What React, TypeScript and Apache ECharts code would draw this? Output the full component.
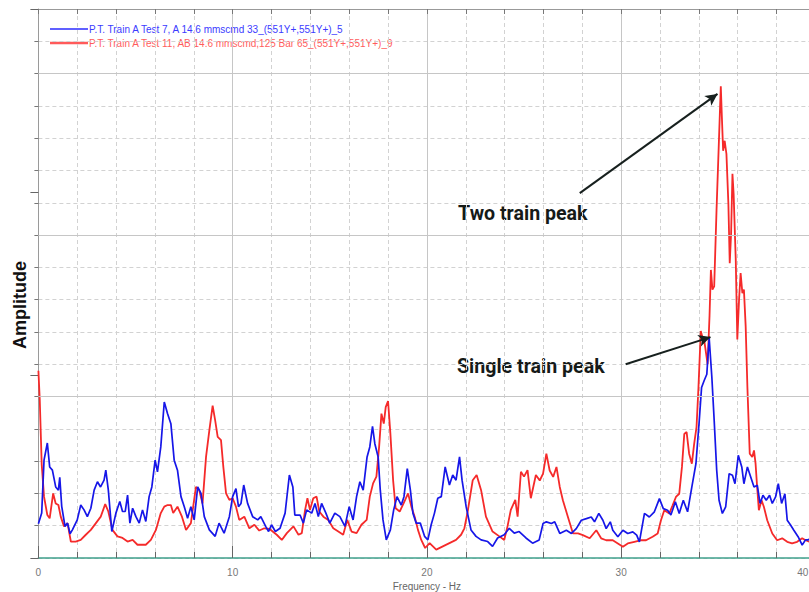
import React, { useEffect, useRef } from "react";
import * as echarts from "echarts";

// Frequency (Hz) and amplitude (in minor grid units)
const blueFreq = [
  0, 0.17, 0.29, 0.46, 0.58, 0.72, 0.89, 1.03, 1.1, 1.2, 1.37, 1.5, 1.63, 1.75, 2.0, 2.18, 2.35, 2.52, 2.7, 2.87,
  3.04, 3.2, 3.38, 3.47, 3.6, 3.78, 3.99, 4.19, 4.33, 4.47, 4.59, 4.71, 4.85, 5.02, 5.19, 5.36, 5.53, 5.7, 5.84, 6.01,
  6.13, 6.3, 6.48, 6.65, 6.82, 6.99, 7.16, 7.34, 7.51, 7.68, 7.85, 8.02, 8.2, 8.37, 8.54, 8.8, 9.1, 9.3, 9.56, 9.83,
  10.0, 10.17, 10.3, 10.43, 10.57, 10.77, 11.03, 11.29, 11.45, 11.7, 11.85, 12.0, 12.2, 12.44, 12.7, 12.92, 13.1, 13.2, 13.47, 13.64,
  13.81, 14.07, 14.24, 14.41, 14.58, 14.8, 15.0, 15.26, 15.52, 15.78, 16.0, 16.2, 16.38, 16.55, 16.72, 16.92, 17.06, 17.2, 17.32, 17.49,
  17.6, 17.74, 17.91, 18.12, 18.29, 18.46, 18.68, 18.82, 18.99, 19.15, 19.28, 19.45, 19.66, 19.88, 20.05, 20.22, 20.39, 20.56, 20.74, 20.94,
  21.16, 21.33, 21.5, 21.68, 21.81, 22.02, 22.27, 22.53, 22.79, 23.13, 23.38, 23.64, 23.98, 24.24, 24.5, 24.75, 25.1, 25.44, 25.78, 25.98,
  26.15, 26.41, 26.58, 26.84, 27.18, 27.44, 27.69, 27.95, 28.21, 28.46, 28.63, 28.85, 29.06, 29.23, 29.44, 29.57, 29.83, 30.09, 30.34, 30.6,
  30.8, 30.94, 31.2, 31.45, 31.71, 31.97, 32.17, 32.39, 32.56, 32.79, 32.99, 33.2, 33.42, 33.64, 33.85, 34.02, 34.14, 34.27, 34.41, 34.53,
  34.67, 34.79, 34.92, 35.04, 35.21, 35.38, 35.56, 35.73, 35.86, 36.03, 36.21, 36.32, 36.5, 36.67, 36.84, 37.01, 37.15, 37.3, 37.47, 37.64,
  37.78, 37.95, 38.09, 38.26, 38.43, 38.55, 38.72, 38.89, 39.11, 39.32, 39.49, 39.61, 39.8, 40.0,
];
const blueAmp = [
  1.06, 1.39, 3.03, 3.56, 2.82, 2.72, 2.2, 2.1, 2.5, 1.6, 0.98, 1.08, 0.75, 0.87, 1.18, 1.64, 1.49, 1.28, 1.54, 2.1,
  2.36, 2.2, 2.41, 2.72, 2.1, 0.82, 1.39, 1.75, 1.44, 1.44, 1.95, 1.08, 1.54, 1.28, 1.08, 1.49, 1.13, 1.9, 2.2, 3.03,
  2.67, 3.44, 4.83, 4.47, 4.16, 3.03, 2.72, 1.9, 1.59, 1.23, 1.59, 1.18, 2.2, 2.0, 1.28, 0.87, 0.67, 1.08, 0.77, 1.28,
  1.9, 2.15, 1.59, 1.69, 2.26, 1.69, 1.28, 1.18, 1.28, 0.98, 0.82, 1.03, 0.82, 0.92, 1.39, 2.57, 2.2, 1.33, 1.33, 1.08,
  1.49, 1.39, 1.69, 1.28, 1.69, 1.39, 1.08, 1.39, 1.28, 0.98, 1.59, 1.18, 1.9, 2.36, 2.1, 3.13, 3.44, 4.08, 3.54, 3.13,
  2.1, 1.18, 0.56, 0.87, 1.49, 1.9, 1.64, 1.9, 2.77, 2.1, 1.39, 1.08, 1.08, 0.67, 0.56, 1.03, 1.39, 1.85, 1.9, 2.82,
  2.26, 2.57, 2.41, 3.13, 2.41, 1.59, 0.87, 0.67, 0.56, 0.51, 0.36, 0.62, 0.72, 0.92, 0.77, 0.82, 0.62, 0.46, 0.56, 1.07,
  1.12, 1.07, 1.12, 0.76, 0.86, 0.76, 0.91, 1.17, 1.22, 1.27, 1.12, 1.38, 1.17, 0.91, 1.12, 0.86, 0.66, 0.86, 0.76, 0.81,
  0.71, 0.5, 1.38, 1.27, 1.43, 1.84, 1.53, 1.48, 1.33, 1.74, 1.38, 1.79, 1.43, 2.2, 2.92, 4.25, 5.28, 5.49, 5.69, 6.82,
  5.59, 4.25, 2.71, 1.79, 1.38, 1.58, 2.61, 2.56, 2.3, 3.18, 2.82, 2.3, 2.82, 2.51, 2.2, 2.25, 1.69, 1.94, 1.79, 1.94,
  1.69, 1.89, 2.3, 1.69, 1.99, 1.17, 1.02, 0.86, 0.66, 0.4, 0.56, 0.56, 0.6, 0.7,
];

const redFreq = [
  0, 0.07, 0.17, 0.29, 0.46, 0.58, 0.76, 0.89, 1.03, 1.15, 1.32, 1.5, 1.67, 1.92, 2.18, 2.44, 2.7, 2.96, 3.21, 3.44,
  3.6, 3.81, 4.07, 4.33, 4.59, 4.85, 5.1, 5.53, 5.79, 6.05, 6.3, 6.48, 6.65, 6.82, 6.94, 7.16, 7.39, 7.6, 7.85, 8.11,
  8.28, 8.45, 8.63, 8.8, 8.97, 9.1, 9.23, 9.4, 9.52, 9.66, 9.83, 10.0, 10.17, 10.34, 10.6, 10.86, 11.12, 11.37, 11.63, 11.9,
  12.27, 12.53, 12.79, 13.13, 13.39, 13.56, 13.73, 13.85, 13.98, 14.15, 14.32, 14.46, 14.67, 14.92, 15.18, 15.44, 15.69, 15.9, 16.12, 16.38,
  16.63, 16.9, 17.06, 17.23, 17.4, 17.54, 17.66, 17.78, 17.88, 18.0, 18.12, 18.26, 18.39, 18.6, 18.8, 19.03, 19.2, 19.37, 19.54, 19.71,
  19.91, 20.14, 20.48, 20.82, 21.16, 21.5, 21.76, 21.93, 22.1, 22.36, 22.56, 22.79, 23.04, 23.38, 23.73, 23.98, 24.15, 24.32, 24.55, 24.67,
  24.84, 25.0, 25.18, 25.35, 25.61, 25.81, 25.98, 26.15, 26.32, 26.5, 26.67, 26.84, 27.0, 27.26, 27.52, 27.78, 28.03, 28.38, 28.72, 28.97,
  29.23, 29.57, 29.83, 30.09, 30.34, 30.68, 31.03, 31.28, 31.62, 31.88, 32.05, 32.22, 32.48, 32.65, 32.82, 32.99, 33.13, 33.25, 33.37, 33.5,
  33.64, 33.76, 33.88, 33.98, 34.1, 34.19, 34.27, 34.45, 34.55, 34.62, 34.7, 34.79, 34.91, 35.01, 35.08, 35.13, 35.18, 35.25, 35.33, 35.42,
  35.52, 35.59, 35.66, 35.73, 35.79, 35.9, 35.98, 36.07, 36.15, 36.24, 36.32, 36.41, 36.5, 36.62, 36.75, 36.84, 36.92, 37.0, 37.09, 37.23,
  37.35, 37.52, 37.78, 38.03, 38.29, 38.55, 38.8, 39.06, 39.32, 39.49, 39.7, 40.0,
];
const redAmp = [
  5.8, 4.9, 2.9, 1.9, 1.33, 1.23, 2.0, 1.69, 1.64, 1.28, 0.98, 1.08, 0.51, 0.51, 0.56, 0.72, 0.87, 1.08, 1.28, 1.67,
  1.44, 0.87, 0.67, 0.62, 0.51, 0.56, 0.41, 0.41, 0.56, 0.87, 1.39, 1.59, 1.64, 1.64, 1.39, 1.59, 1.28, 0.87, 1.08, 2.2,
  2.1, 1.69, 3.13, 3.95, 4.72, 4.26, 3.75, 3.65, 2.82, 2.0, 1.8, 1.85, 1.59, 1.18, 1.28, 0.92, 1.03, 0.85, 0.92, 0.9,
  0.72, 0.56, 0.77, 0.98, 0.72, 0.77, 1.49, 1.85, 1.49, 1.85, 1.9, 1.44, 1.28, 1.18, 0.92, 0.82, 0.72, 1.18, 0.82, 0.77,
  1.03, 1.18, 1.9, 2.31, 2.52, 3.44, 4.47, 4.16, 4.67, 4.86, 3.85, 2.41, 1.54, 1.44, 1.69, 2.0, 1.59, 1.28, 0.87, 0.56,
  0.31, 0.46, 0.26, 0.36, 0.46, 0.56, 0.72, 0.92, 1.44, 2.41, 2.57, 2.1, 1.28, 0.82, 0.67, 0.56, 0.98, 1.49, 1.8, 1.28,
  2.67, 2.52, 2.72, 1.85, 2.57, 2.4, 2.61, 3.23, 2.71, 2.51, 2.82, 2.2, 1.79, 1.27, 0.76, 0.76, 0.71, 0.61, 0.86, 0.61,
  0.55, 0.55, 0.45, 0.35, 0.45, 0.5, 0.55, 0.55, 0.66, 0.76, 1.17, 1.48, 1.38, 1.63, 1.89, 1.99, 2.82, 3.84, 3.9, 3.23,
  2.92, 3.54, 4.05, 5.28, 7.03, 6.82, 6.77, 6.0, 7.5, 8.92, 8.31, 8.41, 10.77, 12.51, 13.74, 14.61, 13.74, 12.61, 12.92, 12.51,
  10.98, 9.13, 10.05, 11.9, 11.28, 9.23, 6.77, 8.0, 8.82, 8.2, 8.31, 7.18, 5.28, 3.23, 3.13, 3.33, 2.92, 2.2, 1.48, 1.79,
  1.58, 1.17, 0.76, 0.55, 0.61, 0.5, 0.45, 0.5, 0.61, 0.55, 0.5, 0.4,
];

const xTicksMajor = [0, 10, 20, 30, 40];
const blueName = "P.T. Train A Test 7, A 14.6 mmscmd 33_(551Y+,551Y+)_5";
const redName = "P.T. Train A Test 11, AB 14.6 mmscmd,125 Bar 65_(551Y+,551Y+)_9";
// annotation arrows: [fromHz, fromAmp, toHz, toAmp]
const twoTrainArrow = [27.87, 11.3, 34.96, 14.37];
const singleTrainArrow = [30.23, 6.0, 34.6, 6.84];

const BLUE = "#1616e8";
const RED = "#f52a2a";

export default function App() {
  const ref = useRef<HTMLDivElement>(null);
  useEffect(() => {
    if (!ref.current) return;
    const chart = echarts.init(ref.current, null, { renderer: "svg" });
    const blueData = blueFreq.map((f, i) => [f, blueAmp[i]]);
    const redData = redFreq.map((f, i) => [f, redAmp[i]]);
    const dashed = { type: [4, 3] as any, color: "#d2d2d2", width: 1 };
    const solid = { type: "solid" as const, color: "#c6c6c6", width: 1 };
    chart.setOption({
      animation: false,
      backgroundColor: "#ffffff",
      grid: { left: 38.4, width: 777, top: 9, bottom: 34, containLabel: false, outerBoundsMode: "none" },
      xAxis: [
        {
          type: "value", min: 0, max: 40, interval: 2, position: "bottom",
          axisLine: { show: true, onZero: false, lineStyle: { color: "#3fa08c", width: 1.5 } },
          axisTick: { show: true, inside: true, length: 6, lineStyle: { color: "#666" } },
          axisLabel: { show: false },
          splitLine: { show: true, lineStyle: dashed },
        },
        {
          type: "value", min: 0, max: 40, interval: 10, position: "bottom",
          axisLine: { show: false, onZero: false },
          axisTick: { show: true, inside: true, length: 12, lineStyle: { color: "#666" } },
          axisLabel: {
            show: true, color: "#777", fontSize: 10, fontFamily: "Liberation Sans", margin: 9,
            alignMaxLabel: "right",
            formatter: (v: number) => (v === 40 ? "{last|40}" : xTicksMajor.includes(v) ? String(v) : ""),
            rich: { last: { color: "#777", fontSize: 10, fontFamily: "Liberation Sans", padding: [0, 7, 0, 0] } },
          },
          splitLine: { show: true, lineStyle: solid },
          name: "Frequency - Hz", nameLocation: "middle", nameGap: 22,
          nameTextStyle: { color: "#666", fontSize: 10, fontFamily: "Liberation Sans" },
        },
        {
          type: "value", min: 0, max: 40, interval: 2, position: "top",
          axisLine: { show: true, onZero: false, lineStyle: { color: "#999" } },
          axisTick: { show: true, inside: true, length: 5, lineStyle: { color: "#777" } },
          axisLabel: { show: false },
          splitLine: { show: false },
        },
      ],
      yAxis: [
        {
          type: "value", min: 0, max: 17, interval: 1, position: "left",
          axisLine: { show: true, onZero: false, lineStyle: { color: "#9a9a9a" } },
          axisTick: { show: true, inside: false, length: 4, lineStyle: { color: "#777" } },
          axisLabel: { show: false },
          splitLine: { show: true, lineStyle: dashed },
        },
        {
          type: "value", min: 0, max: 15, interval: 5, position: "left",
          axisLine: { show: false, onZero: false },
          axisTick: { show: true, inside: false, length: 8, lineStyle: { color: "#666" } },
          axisLabel: { show: false },
          splitLine: { show: false },
        },
      ],
      series: [
        {
          name: "solidGrid", type: "line", xAxisIndex: 0, yAxisIndex: 0, data: [],
          markLine: {
            silent: true, symbol: ["none", "none"], label: { show: false },
            lineStyle: { color: "#c6c6c6", width: 1, type: "solid" },
            data: [{ yAxis: 5 }, { yAxis: 10 }, { yAxis: 15 }],
          },
        },
        {
          name: redName, type: "line", xAxisIndex: 0, yAxisIndex: 0, data: redData,
          showSymbol: false, symbol: "none", lineStyle: { color: RED, width: 1.8 }, z: 3,
        },
        {
          name: blueName, type: "line", xAxisIndex: 0, yAxisIndex: 0, data: blueData,
          showSymbol: false, symbol: "none", lineStyle: { color: BLUE, width: 1.7 }, z: 4,
          markLine: {
            silent: true, symbol: ["none", "arrow"], symbolSize: [9, 12], label: { show: false },
            lineStyle: { color: "#17201e", width: 2, type: "solid" },
            data: [
              [{ coord: [twoTrainArrow[0], twoTrainArrow[1]] }, { coord: [twoTrainArrow[2], twoTrainArrow[3]] }],
              [{ coord: [singleTrainArrow[0], singleTrainArrow[1]] }, { coord: [singleTrainArrow[2], singleTrainArrow[3]] }],
            ],
          },
        },
      ],
      graphic: [
        { type: "line", shape: { x1: 50, y1: 29, x2: 88, y2: 29 }, style: { stroke: "#2b2bff", lineWidth: 1.5 } },
        { type: "text", x: 89, y: 29, style: { text: blueName, fill: "#3b3bff", fontSize: 10, fontFamily: "Liberation Sans", verticalAlign: "middle" } },
        { type: "line", shape: { x1: 50, y1: 43, x2: 88, y2: 43 }, style: { stroke: "#ff5a5a", lineWidth: 2.5 } },
        { type: "text", x: 89, y: 43, style: { text: redName, fill: "#ff5c5c", fontSize: 10, fontFamily: "Liberation Sans", verticalAlign: "middle" } },
        { type: "text", x: 458, y: 213, style: { text: "Two train peak", fill: "#151a18", fontSize: 19.6, fontWeight: "bold", fontFamily: "Roboto", verticalAlign: "middle" } },
        { type: "text", x: 457, y: 366, style: { text: "Single train peak", fill: "#151a18", fontSize: 19.6, fontWeight: "bold", fontFamily: "Roboto", verticalAlign: "middle" } },
        { type: "text", x: 20, y: 305, rotation: Math.PI / 2, style: { text: "Amplitude", fill: "#111", fontSize: 18, fontWeight: "bold", fontFamily: "Liberation Sans", align: "center", verticalAlign: "middle" } },
      ],
    });
    return () => chart.dispose();
  }, []);
  return <div ref={ref} style={{ position: "fixed", left: 0, top: 0, width: 809, height: 592, background: "#fff" }} />;
}
